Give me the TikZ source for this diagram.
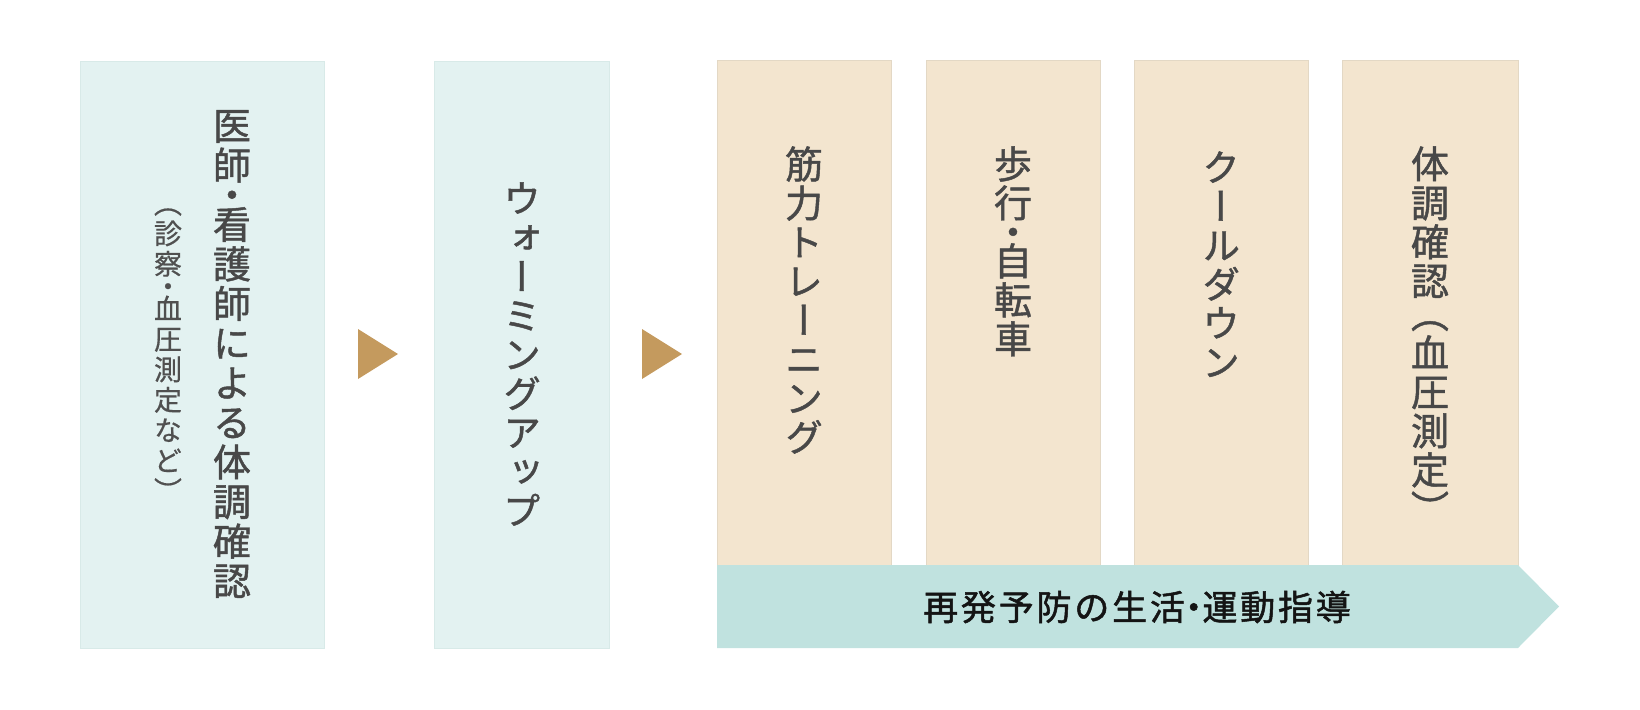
\documentclass[tikz,border=0pt]{standalone}
\usepackage{fontspec}
\newfontfamily\jpv[RawFeature=+vert,FakeBold=1.2]{Noto Sans CJK JP}
\newfontfamily\jps[RawFeature=+vert,FakeBold=0.6]{Noto Sans CJK JP}
\newfontfamily\jph[LetterSpace=8,FakeBold=1.4]{Noto Sans CJK JP}
\definecolor{cyanbox}{HTML}{E3F2F1}
\definecolor{cyanedge}{HTML}{D8EAE8}
\definecolor{beigebox}{HTML}{F3E5CF}
\definecolor{beigeedge}{HTML}{E3D8C5}
\definecolor{bannerc}{HTML}{C0E2DF}
\definecolor{tric}{HTML}{C49A5E}
\definecolor{textc}{HTML}{484848}
\definecolor{subc}{HTML}{505050}
\definecolor{bantext}{HTML}{141414}
\lineskiplimit=-16000pt
\tikzset{
  cbox/.style={fill=cyanbox, draw=cyanedge, line width=0.5pt},
  bbox/.style={fill=beigebox, draw=beigeedge, line width=0.5pt},
  tri/.style={fill=tric, draw=none},
  vt/.style={align=center, inner sep=0pt, text=textc,
    font=\jpv\fontsize{19}{19.5}\selectfont},
  vsub/.style={align=center, inner sep=0pt, text=subc,
    font=\jps\fontsize{14}{15.2}\selectfont},
  bantxt/.style={inner sep=0pt, text=bantext, font=\jph\fontsize{17.5}{20}\selectfont}
}
\begin{document}
\begin{tikzpicture}[x=0.5pt,y=-0.5pt]
\useasboundingbox (0,0) rectangle (1640,709);
% boxes
\path[cbox] (80,61) rectangle (324,648) node[pos=0.5] (b1) {};
\path[cbox] (434,61) rectangle (609,648) node[pos=0.5] (b2) {};
\path[bbox] (717,60) rectangle (891,565) node[pos=0.5] (b3) {};
\path[bbox] (926,60) rectangle (1100,565) node[pos=0.5] (b4) {};
\path[bbox] (1134,60) rectangle (1308,565) node[pos=0.5] (b5) {};
\path[bbox] (1342,60) rectangle (1518,565) node[pos=0.5] (b6) {};
% banner
\path[fill=bannerc] (717,565) -- (1518,565) -- (1559,606.5) -- (1518,648) -- (717,648) -- cycle;
\node[bantxt] (ban) at (1137,607) {再発予防の生活\hspace{-0.25em}・\hspace{-0.25em}運動指導};
% triangles
\path[tri] (358,329) -- (398,354) -- (358,379) -- cycle;
\path[tri] (642,329) -- (682,354) -- (642,379) -- cycle;
% texts
\node[vt, font=\jpv\fontsize{19}{19.8}\selectfont] (t1) at (232,354) {医\\師\\[-5pt]・\\[-5pt]看\\護\\師\\に\\よ\\る\\体\\調\\確\\認};
\node[vsub] (s1) at (168,355) {（\\診\\察\\[-4pt]・\\[-4pt]血\\圧\\測\\定\\な\\ど\\）};
\node[vt] (t2) at (522,354) {ウ\\ォ\\ー\\ミ\\ン\\グ\\ア\\ッ\\プ};
\node[vt, anchor=north] (t3) at (804,146) {筋\\力\\ト\\レ\\ー\\ニ\\ン\\グ};
\node[vt, anchor=north] (t4) at (1013,146) {歩\\行\\[-5pt]・\\[-5pt]自\\転\\車};
\node[vt, anchor=north] (t5) at (1221,151) {ク\\ー\\ル\\ダ\\ウ\\ン};
\node[vt, anchor=north] (t6) at (1430,146) {体\\調\\確\\認\\[-3pt]（\\血\\圧\\測\\定\\）};
\end{tikzpicture}
\end{document}
